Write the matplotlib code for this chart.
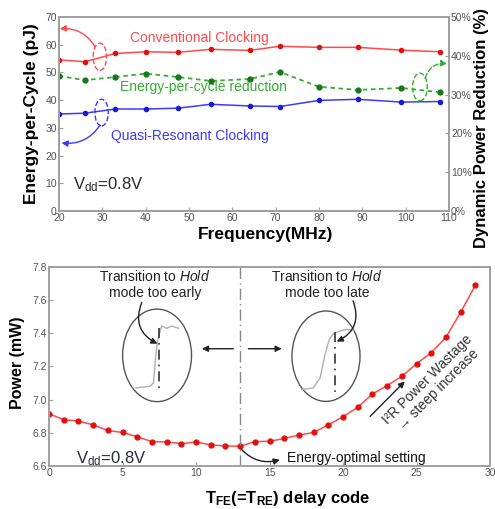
import matplotlib

matplotlib.use("Agg")
import matplotlib.pyplot as plt
from matplotlib.patches import Ellipse

plt.rcParams["font.family"] = ["Liberation Sans", "DejaVu Sans"]
plt.rcParams["mathtext.fontset"] = "custom"
plt.rcParams["mathtext.rm"] = "Liberation Sans"
plt.rcParams["mathtext.it"] = "Liberation Sans:italic"
plt.rcParams["mathtext.bf"] = "Liberation Sans:bold"
plt.rcParams["mathtext.default"] = "regular"

# top panel: energy per cycle vs frequency
freq_mhz = [20, 26, 33, 40, 47.5, 55, 64, 71, 80, 89, 99, 108]
conventional_pj = [54.5, 53.8, 56.8, 57.4, 57.2, 58.3, 57.9, 59.4, 59.0, 59.0, 58.0, 57.4]
quasi_pj = [35.0, 35.3, 36.8, 36.8, 37.1, 38.5, 37.9, 37.7, 39.9, 40.3, 39.3, 39.5]
reduction_pct = [34.8, 33.7, 34.5, 35.4, 34.5, 33.5, 34.0, 35.8, 32.0, 31.2, 31.7, 30.6]

# bottom panel: power vs delay code
delay_code = list(range(30))
power_mw = [6.915, 6.879, 6.871, 6.848, 6.814, 6.802, 6.776, 6.747, 6.745, 6.735,
            6.745, 6.727, 6.721, 6.719, 6.747, 6.749, 6.766, 6.786, 6.802, 6.848,
            6.897, 6.954, 7.034, 7.085, 7.141, 7.216, 7.283, 7.376, 7.527, 7.689]
optimal_code = 13

TICK_GRAY = "#555555"
SPINE_GRAY = "#a0a0a0"
RED_LINE = "#ff4a4a"
RED_MARK = "#e01010"
BLUE_LINE = "#3a3aff"
BLUE_MARK = "#1a1ad0"
GREEN_LINE = "#33b033"
GREEN_MARK = "#187818"


def _style(ax):
    for sp in ax.spines.values():
        sp.set_color(SPINE_GRAY)
        sp.set_linewidth(1.4)
    ax.tick_params(direction="in", length=3, colors=SPINE_GRAY, labelcolor=TICK_GRAY,
                   labelsize=7.5, pad=1.5)


def _arrow(ax, start, end, color, rad, ls="-"):
    ax.annotate("", xy=end, xytext=start,
                arrowprops=dict(arrowstyle="-|>", color=color, lw=1.0, ls=ls,
                                mutation_scale=9, connectionstyle=f"arc3,rad={rad}",
                                shrinkA=0, shrinkB=0))


fig = plt.figure(figsize=(4.95, 5.09), dpi=100)

# ---- top panel
ax = fig.add_axes([0.119, 0.585, 0.788, 0.382])
ax2 = ax.twinx()
ax.plot(freq_mhz, conventional_pj, color=RED_LINE, lw=1.1, marker="o", ms=3,
        mfc=RED_MARK, mec=RED_MARK)
ax.plot(freq_mhz, quasi_pj, color=BLUE_LINE, lw=1.1, marker="o", ms=3,
        mfc=BLUE_MARK, mec=BLUE_MARK)
ax2.plot(freq_mhz, reduction_pct, color=GREEN_LINE, lw=1.3, ls=(0, (2.5, 2)),
         marker="o", ms=3.5, mfc=GREEN_MARK, mec=GREEN_MARK)

ax.set_xlim(20, 110)
ax.set_ylim(0, 70)
ax2.set_ylim(0, 50)
ax.set_xticks(range(20, 111, 10))
ax.set_yticks(range(0, 71, 10))
ax2.set_yticks(range(0, 51, 10))
ax2.set_yticklabels([f"{v}%" for v in range(0, 51, 10)])
_style(ax)
_style(ax2)

ax.set_ylabel("Energy-per-Cycle (pJ)", fontsize=12.5, fontweight="bold")
ax.yaxis.set_label_coords(-0.05, 0.5)
ax2.set_ylabel("Dynamic Power Reduction (%)", fontsize=12, fontweight="bold")
ax2.yaxis.set_label_coords(1.063, 0.43)
ax.set_xlabel("Frequency(MHz)", fontsize=12.5, fontweight="bold")
ax.xaxis.set_label_coords(0.53, -0.08)

ax.text(36.3, 62.4, "Conventional Clocking", color=RED_LINE, fontsize=10, va="center")
ax.text(34.2, 44.7, "Energy-per-cycle reduction", color=GREEN_LINE, fontsize=10, va="center")
ax.text(32.1, 27.1, "Quasi-Resonant Clocking", color=BLUE_LINE, fontsize=10, va="center")
ax.text(23.2, 9.4, "V$_{dd}$=0.8V", color="#2a2a2a", fontsize=12, va="center")

ax.add_patch(Ellipse((29.45, 55.6), 3.1, 9.8, fill=False, ec=RED_LINE, ls="--", lw=1.0))
ax.add_patch(Ellipse((29.85, 35.5), 3.1, 9.6, fill=False, ec=BLUE_LINE, ls="--", lw=1.0))
ax2.add_patch(Ellipse((103.3, 31.95), 3.4, 7.1, fill=False, ec=GREEN_LINE, ls="--", lw=1.0))
_arrow(ax, (28.3, 59.3), (20.2, 65.7), RED_LINE, 0.3)
_arrow(ax, (29.5, 31.0), (20.6, 24.6), BLUE_LINE, -0.3)
_arrow(ax2, (104.5, 34.2), (109.6, 37.9), GREEN_LINE, -0.4, ls="--")

# ---- bottom panel
bx = fig.add_axes([0.099, 0.0845, 0.891, 0.391])
bx.plot(delay_code, power_mw, color=RED_LINE, lw=1.1, marker="o", ms=3.5,
        mfc=RED_MARK, mec=RED_MARK)
bx.axvline(optimal_code, color="#888888", lw=1.0, ls=(0, (8, 3, 1, 3)))
bx.set_xlim(0, 30)
bx.set_ylim(6.6, 7.8)
bx.set_xticks(range(0, 31, 5))
bx.set_yticks([6.6, 6.8, 7.0, 7.2, 7.4, 7.6, 7.8])
bx.set_yticklabels(["6.6", "6.8", "7.0", "7.2", "7.4", "7.6", "7.8"])
_style(bx)
bx.set_ylabel("Power (mW)", fontsize=11.5, fontweight="bold")
bx.yaxis.set_label_coords(-0.055, 0.52)
bx.set_xlabel(r"T$_{\mathbf{FE}}$(=T$_{\mathbf{RE}}$) delay code", fontsize=12,
              fontweight="bold")
bx.xaxis.set_label_coords(0.54, -0.115)

bx.text(7.2, 7.695, "Transition to $\\mathit{Hold}$\nmode too early", ha="center",
        va="center", fontsize=10, color="#222222", linespacing=1.15)
bx.text(18.9, 7.695, "Transition to $\\mathit{Hold}$\nmode too late", ha="center",
        va="center", fontsize=10, color="#222222", linespacing=1.15)

# scope insets
bx.add_patch(Ellipse((7.35, 7.267), 4.69, 0.558, fill=False, ec="#555555", lw=1.0))
bx.add_patch(Ellipse((18.84, 7.262), 4.63, 0.545, fill=False, ec="#555555", lw=1.0))
wave_l_x = [5.92, 6.87, 7.10, 7.21, 7.37, 7.66, 8.0, 8.35, 8.80]
wave_l_y = [7.071, 7.081, 7.101, 7.212, 7.353, 7.444, 7.430, 7.444, 7.430]
wave_r_x = [17.19, 17.98, 18.44, 18.78, 19.07, 19.34, 19.80, 20.25, 20.70]
wave_r_y = [7.061, 7.071, 7.131, 7.273, 7.364, 7.398, 7.414, 7.424, 7.418]
bx.plot(wave_l_x, wave_l_y, color="#b0b0b0", lw=1.0)
bx.plot(wave_r_x, wave_r_y, color="#b0b0b0", lw=1.0)
bx.plot([7.51, 7.51], [7.434, 7.05], color="#333333", lw=1.2, ls=(0, (6, 3, 1, 3)))
bx.plot([19.46, 19.46], [7.41, 7.04], color="#333333", lw=1.2, ls=(0, (6, 3, 1, 3)))

_arrow(bx, (6.31, 7.586), (7.37, 7.337), "#222222", 0.45)
_arrow(bx, (20.68, 7.596), (19.57, 7.35), "#222222", -0.45)
_arrow(bx, (12.54, 7.307), (10.4, 7.307), "#222222", 0)
_arrow(bx, (13.56, 7.307), (15.83, 7.307), "#222222", 0)

bx.text(16.16, 6.651, "Energy-optimal setting", fontsize=10, va="center", color="#111111")
_arrow(bx, (13.09, 6.70), (15.7, 6.638), "#222222", 0.3)
bx.text(1.86, 6.645, "V$_{dd}$=0.8V", color="#2a2a40", fontsize=12, va="center")

bx.text(26.1, 7.09, "I²R Power Wastage\n→ steep increase", rotation=45, ha="center",
        va="center", fontsize=10, color="#333333", rotation_mode="anchor",
        linespacing=1.1)
_arrow(bx, (21.84, 6.899), (24.2, 7.11), "#222222", 0)

fig.savefig("out.png", dpi=100)
